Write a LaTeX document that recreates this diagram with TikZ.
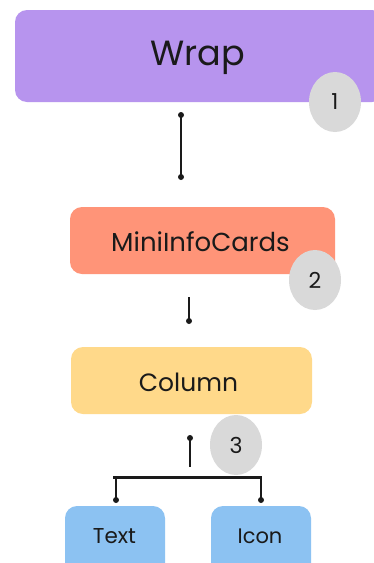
\documentclass[tikz,border=0pt]{standalone}
\usepackage{fontspec}
\setmainfont{Poppins}
\usetikzlibrary{shapes.geometric}
\definecolor{wrapcol}{HTML}{B794EE}
\definecolor{cardcol}{HTML}{FF9478}
\definecolor{colcol}{HTML}{FFD98A}
\definecolor{leafcol}{HTML}{8CC2F2}
\definecolor{badgecol}{HTML}{D9D9D9}
\definecolor{inkcol}{HTML}{1A1A1A}
\tikzset{
  block/.style={rectangle, rounded corners=12pt, draw=none, inner sep=0pt, text=inkcol},
  badge/.style={ellipse, fill=badgecol, draw=none, minimum width=52pt, minimum height=60pt, inner sep=0pt, font=\fontsize{22}{22}\selectfont, text=inkcol},
  link/.style={draw=inkcol, line width=1.5pt},
  dot/.style={circle, fill=inkcol, inner sep=0pt, minimum size=6pt},
  label/.style={text=inkcol, inner sep=0pt},
}
\begin{document}
\begin{tikzpicture}[x=1pt, y=-1pt]
\useasboundingbox (0,0) rectangle (374,563);
\clip (0,0) rectangle (374,563);
\fill[white] (0,0) rectangle (374,563);

% component boxes
\node[block, fill=wrapcol, minimum width=369pt, minimum height=92pt] (wrap) at (199.5,56) {};
\node[block, fill=cardcol, minimum width=265pt, minimum height=67pt] (cards) at (202.5,240.5) {};
\node[block, fill=colcol, minimum width=241pt, minimum height=67pt] (column) at (191.5,380.5) {};
\node[block, fill=leafcol, minimum width=100pt, minimum height=80pt] (text) at (115,546) {};
\node[block, fill=leafcol, minimum width=100pt, minimum height=80pt] (icon) at (261,546) {};

% box captions
\node[label, font=\fontsize{35}{35}\selectfont] (wraplbl) at (197.5,58) {Wrap};
\node[label, font=\fontsize{26}{26}\selectfont] (cardslbl) at (200.5,242) {MiniInfoCards};
\node[label, font=\fontsize{25}{25}\selectfont] (columnlbl) at (188.5,382) {Column};
\node[label, font=\fontsize{21.5}{21.5}\selectfont] (textlbl) at (114.5,536) {Text};
\node[label, font=\fontsize{21}{21}\selectfont] (iconlbl) at (260,536) {Icon};

% numbered badges
\node[badge] (b1) at (335,102) {1};
\node[badge] (b2) at (315,280) {2};
\node[badge] (b3) at (236,445) {3};

% connector Wrap -> MiniInfoCards
\node[dot] (w1) at (181,115) {};
\node[dot] (w2) at (181,177) {};
\draw[link, line width=2pt] (w1.center) -- (w2.center);

% connector MiniInfoCards -> Column
\coordinate (m1) at (189,297);
\node[dot] (m2) at (189,321) {};
\draw[link] (m1) -- (m2.center);

% connector Column -> children
\node[dot] (c1) at (190,438) {};
\coordinate (c2) at (190,467);
\draw[link] (c1.center) -- (c2);
\coordinate (busl) at (113,477);
\coordinate (busr) at (262,477);
\draw[inkcol, line width=3pt] (busl) -- (busr);
\node[dot] (t1) at (116,500) {};
\node[dot] (i1) at (261,500) {};
\draw[link] (t1.center) -- (t1.center |- busl);
\draw[link] (i1.center) -- (i1.center |- busr);
\end{tikzpicture}
\end{document}
